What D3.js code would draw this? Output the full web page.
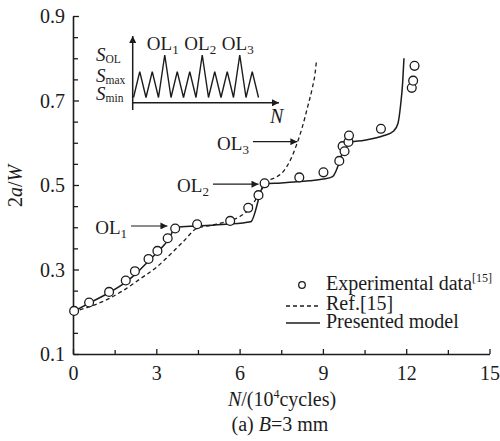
<!DOCTYPE html>
<html><head><meta charset="utf-8">
<script src="https://cdn.jsdelivr.net/npm/d3@7"></script>
<style>
body{margin:0;background:#fff}
svg{display:block}
</style>
</head><body>
<svg id="chart" width="500" height="441"></svg>
<script>
// ---- data (N in 10^4 cycles, 2a/W) ----
const expN = [0.04, 0.58, 1.3, 1.9, 2.23, 2.72, 3.04, 3.41, 3.68, 4.47, 5.66, 6.31, 6.68, 6.9, 8.15, 9.02, 9.59, 9.71, 9.78, 9.92, 9.94, 11.09, 12.2, 12.25, 12.3];
const expA = [0.202, 0.222, 0.247, 0.274, 0.296, 0.325, 0.344, 0.374, 0.397, 0.407, 0.415, 0.446, 0.476, 0.504, 0.518, 0.530, 0.557, 0.592, 0.580, 0.602, 0.617, 0.633, 0.730, 0.747, 0.782];

const refN = [0, 0.6, 1.2, 1.8, 2.4, 3.0, 3.6, 4.0, 4.45, 5.0, 5.5, 6.0, 6.4, 6.75, 7.0, 7.3, 7.6, 7.85, 8.05, 8.25, 8.45, 8.62, 8.72, 8.77];
const refA = [0.200, 0.212, 0.228, 0.250, 0.277, 0.305, 0.342, 0.368, 0.397, 0.405, 0.413, 0.425, 0.447, 0.485, 0.508, 0.518, 0.534, 0.562, 0.595, 0.635, 0.685, 0.730, 0.765, 0.795];

const modN = [0, 0.6, 1.3, 1.9, 2.3, 2.75, 3.1, 3.45, 3.7, 4.5, 5.5, 6.4, 6.9, 7.5, 8.5, 9.0, 9.35, 9.9, 10.5, 11.2, 11.55, 11.7, 11.8, 11.87, 11.92];
const modA = [0.200, 0.221, 0.245, 0.270, 0.292, 0.322, 0.345, 0.372, 0.400, 0.403, 0.407, 0.413, 0.503, 0.505, 0.510, 0.514, 0.520, 0.600, 0.606, 0.617, 0.628, 0.645, 0.690, 0.740, 0.800];

const xTicks = [0, 3, 6, 9, 12, 15];
const xMinor = [1.5, 4.5, 7.5, 10.5, 13.5];
const yTicks = [0.1, 0.3, 0.5, 0.7, 0.9];
const yMinor = [0.15, 0.2, 0.25, 0.35, 0.4, 0.45, 0.55, 0.6, 0.65, 0.75, 0.8, 0.85];

// overload annotations: label, arrow start N, arrow end N, level
const olLabels = ["1", "2", "3"];
const olFromN = [2.09, 5.04, 6.48];
const olToN = [3.4, 6.68, 8.08];
const olA = [0.403, 0.502, 0.6025];

// inset schematic load sequence (half-cycle index -> level)
const insetSeq = ["min","max","min","max","min","OL","min","max","min","max","min","OL","min","max","min","max","min","OL","min","max","min"];
const insetLevels = ["min", "max", "OL"];
const legendLabels = ["Experimental data", "Ref.[15]", "Presented model"];

const FONT = "'Liberation Serif', 'Times New Roman', 'DejaVu Serif', serif";

// ---- scales ----
const svg = d3.select("#chart");
const x = d3.scaleLinear().domain([0, 15]).range([73, 489.5]);
const y = d3.scaleLinear().domain([0.1, 0.9]).range([354, 16]);
const ink = "#1c1c1c";

// defs: arrowhead
const defs = svg.append("defs");
defs.append("marker").attr("id","ah").attr("viewBox","0 0 10 10").attr("refX",10).attr("refY",5)
  .attr("markerWidth",9).attr("markerHeight",7).attr("markerUnits","userSpaceOnUse").attr("orient","auto")
  .append("path").attr("d","M0,0L10,5L0,10z").attr("fill",ink);

// ---- axes ----
const gx = svg.append("g").attr("transform",`translate(0,${y(0.1)})`)
  .call(d3.axisBottom(x).tickValues(xTicks).tickSizeInner(-5).tickSizeOuter(0).tickPadding(12).tickFormat(d3.format("d")));
const gxm = svg.append("g").attr("transform",`translate(0,${y(0.1)})`)
  .call(d3.axisBottom(x).tickValues(xMinor).tickSizeInner(-4).tickSizeOuter(0).tickFormat(""));
gxm.select(".domain").remove();
const gy = svg.append("g").attr("transform",`translate(${x(0)},0)`)
  .call(d3.axisLeft(y).tickValues(yTicks).tickSizeInner(-6).tickSizeOuter(0).tickPadding(8).tickFormat(d3.format(".1f")));
const gym = svg.append("g").attr("transform",`translate(${x(0)},0)`)
  .call(d3.axisLeft(y).tickValues(yMinor).tickSizeInner(-5).tickSizeOuter(0).tickFormat(""));
gym.select(".domain").remove();
svg.selectAll(".domain").attr("stroke",ink).attr("stroke-width",1.6);
svg.selectAll(".tick line").attr("stroke",ink).attr("stroke-width",1.3);
svg.selectAll(".tick text").attr("font-size",20).attr("fill",ink);
gy.selectAll(".tick text").attr("dy","0.34em");

// ---- lines ----
const line = d3.line().x(d=>x(d[0])).y(d=>y(d[1])).curve(d3.curveMonotoneX);
svg.append("path").datum(refN.map((n,i)=>[n,refA[i]])).attr("d",line)
  .attr("fill","none").attr("stroke",ink).attr("stroke-width",1.3).attr("stroke-dasharray","4,3");
svg.append("path").datum(modN.map((n,i)=>[n,modA[i]])).attr("d",line)
  .attr("fill","none").attr("stroke",ink).attr("stroke-width",1.5);

// ---- experimental points ----
svg.append("g").selectAll("circle").data(expN.map((n,i)=>[n,expA[i]])).join("circle")
  .attr("cx",d=>x(d[0])).attr("cy",d=>y(d[1])).attr("r",4.4)
  .attr("fill","#fff").attr("stroke",ink).attr("stroke-width",1.3);

// ---- overload annotations ----
olLabels.forEach((lab,i)=>{
  svg.append("line").attr("x1",x(olFromN[i])).attr("x2",x(olToN[i])).attr("y1",y(olA[i])).attr("y2",y(olA[i]))
    .attr("stroke",ink).attr("stroke-width",1.2).attr("marker-end","url(#ah)");
  const t = svg.append("text").attr("x",x(olFromN[i])-4).attr("y",y(olA[i])+8).attr("text-anchor","end").attr("font-size",19);
  t.append("tspan").text("OL");
  t.append("tspan").attr("font-size",13).attr("dy",4).text(lab);
});

// ---- inset schematic ----
const xi = d3.scaleLinear().domain([0, insetSeq.length-1]).range([133.5, 258.5]);
const yi = d3.scalePoint().domain(insetLevels).range([97.5, 55]);
const yiMap = {min: yi("min"), max: 71.7, OL: yi("OL")};
svg.append("path").datum(insetSeq).attr("d", d3.line().x((d,i)=>xi(i)).y(d=>yiMap[d]))
  .attr("fill","none").attr("stroke",ink).attr("stroke-width",1.4);
svg.append("line").attr("x1",132.7).attr("x2",132.7).attr("y1",110).attr("y2",36)
  .attr("stroke",ink).attr("stroke-width",1.5).attr("marker-end","url(#ah)");
svg.append("line").attr("x1",132.7).attr("x2",279).attr("y1",102.8).attr("y2",102.8)
  .attr("stroke",ink).attr("stroke-width",1.5).attr("marker-end","url(#ah)");
svg.append("text").attr("x",270).attr("y",123).attr("font-size",20).attr("font-style","italic").text("N");
const sLabels = [["OL",61],["max",82],["min",100]];
sLabels.forEach(([s,yy])=>{
  const t = svg.append("text").attr("x",96).attr("y",yy).attr("font-size",19);
  t.append("tspan").attr("font-style","italic").text("S");
  t.append("tspan").attr("font-size",11.5).attr("dy",2).text(s);
});
insetSeq.forEach((d,i)=>{
  if(d==="OL"){
    const k = insetSeq.slice(0,i+1).filter(v=>v==="OL").length;
    const t = svg.append("text").attr("x",xi(i)-2).attr("y",50).attr("text-anchor","middle").attr("font-size",19);
    t.append("tspan").text("OL");
    t.append("tspan").attr("font-size",13).attr("dy",4).text(olLabels[k-1]);
  }
});

// ---- legend ----
const lg = svg.append("g");
lg.append("circle").attr("cx",302).attr("cy",285).attr("r",3.3).attr("fill","#fff").attr("stroke",ink).attr("stroke-width",1.3);
lg.append("line").attr("x1",286).attr("x2",320).attr("y1",306).attr("y2",306).attr("stroke",ink).attr("stroke-width",1.3).attr("stroke-dasharray","4,3");
lg.append("line").attr("x1",286).attr("x2",320).attr("y1",323).attr("y2",323).attr("stroke",ink).attr("stroke-width",1.5);
const lt0 = lg.append("text").attr("x",326).attr("y",290).attr("font-size",20);
lt0.append("tspan").text(legendLabels[0]);
lt0.append("tspan").attr("font-size",12).attr("dy",-8).text("[15]");
lg.append("text").attr("x",326).attr("y",310).attr("font-size",20).text(legendLabels[1]);
lg.append("text").attr("x",326).attr("y",328).attr("font-size",20).text(legendLabels[2]);

// ---- axis titles ----
const xt = svg.append("text").attr("x",282).attr("y",406).attr("text-anchor","middle").attr("font-size",20);
xt.append("tspan").attr("font-style","italic").text("N");
xt.append("tspan").text("/(10");
xt.append("tspan").attr("font-size",12).attr("dy",-8).text("4");
xt.append("tspan").attr("dy",8).text("cycles)");
const cap = svg.append("text").attr("x",280).attr("y",431).attr("text-anchor","middle").attr("font-size",20);
cap.append("tspan").text("(a) ");
cap.append("tspan").attr("font-style","italic").text("B");
cap.append("tspan").text("=3 mm");
const yt = svg.append("text").attr("transform","translate(22,186) rotate(-90)").attr("text-anchor","middle").attr("font-size",20);
yt.append("tspan").text("2");
yt.append("tspan").attr("font-style","italic").text("a");
yt.append("tspan").text("/");
yt.append("tspan").attr("font-style","italic").text("W");

// serif font everywhere (inline style wins over axis presentation attributes)
svg.selectAll("text").style("font-family", FONT).style("fill", ink);
</script>
</body></html>
